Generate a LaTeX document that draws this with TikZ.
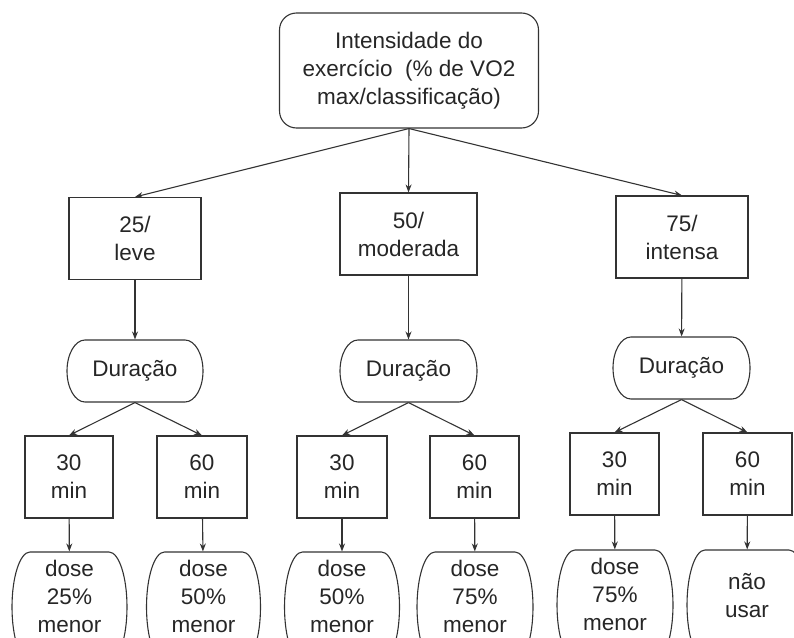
\documentclass[tikz,border=0pt]{standalone}
\usepackage{fontspec}
\setmainfont{Liberation Sans}
\usetikzlibrary{arrows.meta}
\tikzset{
  base/.style={draw=black!80, line width=1.1pt, align=center, inner sep=0pt,
    font=\fontsize{22.5}{28}\selectfont, text=black!85},
  outline/.style={draw=black!80, line width=1.1pt},
  topbox/.style={base, rectangle, rounded corners=17pt, minimum width=259pt, minimum height=115pt},
  sqbox/.style={base, rectangle, minimum height=82pt},
  conn/.style={draw=black!80, line width=1.1pt, -{Stealth[length=8pt,width=6pt]}}
}
% pill: name, x, top y, width, height, bulge, text centre y, text
\newcommand\pill[8]{%
  \node[base, draw=none, rectangle, minimum width=#4pt, minimum height={2*(#7-#3)}] (#1) at (#2,#7) {#8};
  \draw[outline] ({#2-#4/2+#6},{#3}) -- ({#2+#4/2-#6},{#3})
    arc[start angle=90, end angle=-90, x radius=#6pt, y radius={#5pt/2}]
    -- ({#2-#4/2+#6},{#3+#5})
    arc[start angle=270, end angle=90, x radius=#6pt, y radius={#5pt/2}] -- cycle;}
\begin{document}
\begin{tikzpicture}[x=1pt,y=-1pt]
\useasboundingbox (0,0) rectangle (794,637);
\clip (0,0) rectangle (794,637);
\node[topbox] (top) at (409,70.5) {Intensidade do\\exercício\ \ (\% de VO2\\max/classificação)};
\node[sqbox, minimum width=132pt] (b25) at (135,238.5) {25/\\leve};
\node[sqbox, minimum width=137pt] (b50) at (408.5,234) {50/\\moderada};
\node[sqbox, minimum width=132pt] (b75) at (682,237) {75/\\intensa};
\pill{d1}{135}{340}{136}{62}{18}{371}{Duração}
\pill{d2}{408.5}{340}{137}{62}{18}{371}{Duração}
\pill{d3}{681.5}{337}{137}{62}{18}{368}{Duração}
\node[sqbox, minimum width=88pt] (m1) at (69,477) {30\\min};
\node[sqbox, minimum width=90pt] (m2) at (202,477) {60\\min};
\node[sqbox, minimum width=90pt] (m3) at (342,477) {30\\min};
\node[sqbox, minimum width=89pt] (m4) at (474.5,477) {60\\min};
\node[sqbox, minimum width=89pt] (m5) at (614.5,474) {30\\min};
\node[sqbox, minimum width=89pt] (m6) at (747.5,474) {60\\min};
\pill{e1}{69.5}{552}{115}{110}{18}{596}{dose\\25\%\\menor}
\pill{e2}{203.5}{552}{114}{110}{18}{596}{dose\\50\%\\menor}
\pill{e3}{342}{552}{115}{110}{18}{596}{dose\\50\%\\menor}
\pill{e4}{475}{552}{116}{110}{18}{596}{dose\\75\%\\menor}
\pill{e5}{615}{550}{116}{110}{18}{594}{dose\\75\%\\menor}
\pill{e6}{747}{550}{120}{110}{18}{596}{não\\usar}
\draw[conn] (top.south) -- (b25.north);
\draw[conn] (top.south) -- (b50.north);
\draw[conn] (top.south) -- (b75.north);
\draw[conn] (b25) -- (d1);
\draw[conn] (b50) -- (d2);
\draw[conn] (b75) -- (d3);
\draw[conn] (d1.south) -- (m1.north);
\draw[conn] (d1.south) -- (m2.north);
\draw[conn] (d2.south) -- (m3.north);
\draw[conn] (d2.south) -- (m4.north);
\draw[conn] (d3.south) -- (m5.north);
\draw[conn] (d3.south) -- (m6.north);
\draw[conn] (m1) -- (e1);
\draw[conn] (m2) -- (e2);
\draw[conn] (m3) -- (e3);
\draw[conn] (m4) -- (e4);
\draw[conn] (m5) -- (e5);
\draw[conn] (m6) -- (e6);
\end{tikzpicture}
\end{document}
